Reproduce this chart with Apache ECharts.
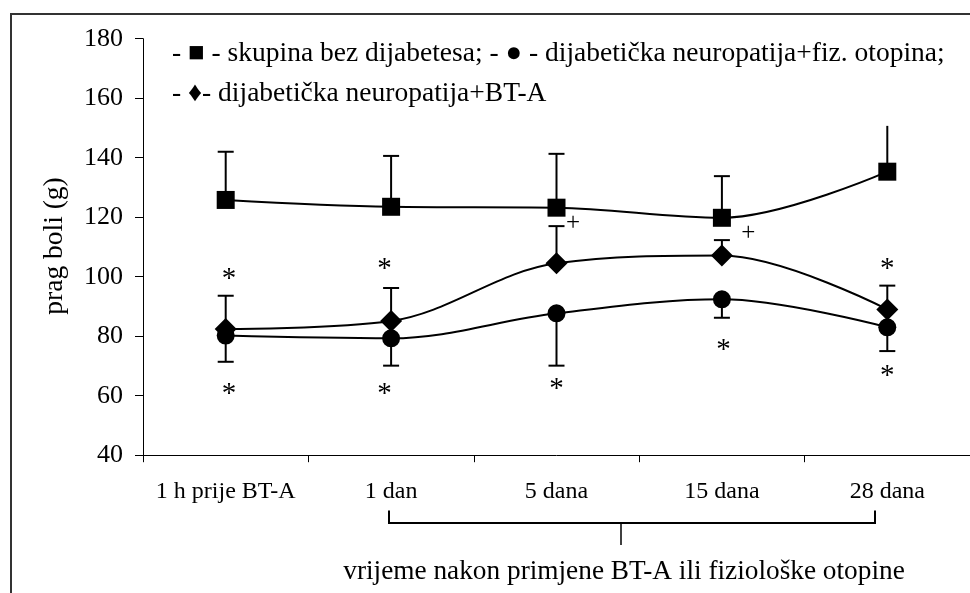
<!DOCTYPE html>
<html><head><meta charset="utf-8">
<script src="https://cdn.jsdelivr.net/npm/echarts@6/dist/echarts.min.js"></script>
<style>html,body{margin:0;padding:0;background:#fff}#c{width:970px;height:593px}</style>
</head><body><div id="c"></div>
<script>
const categories = ['1 h prije BT-A', '1 dan', '5 dana', '15 dana', '28 dana'];
const seriesNames = ['skupina bez dijabetesa', 'dijabetička neuropatija+fiz. otopina', 'dijabetička neuropatija+BT-A'];
const healthy = [125.8, 123.5, 123.2, 119.8, 135.3];
const healthyErrTop = [142, 140.6, 141.3, 133.8, 150.7];
const salineDN = [80.2, 79.3, 87.7, 92.4, 83];
const salineErrBottom = [71.4, 70.1, 70.1, 86.2, 75];
const btaDN = [82.4, 85.1, 104.5, 107.1, 89];
const btaErrTop = [93.6, 96.2, 117, 112.3, 97];
const yMin = 40, yMax = 180, yStep = 20;
const asterisks = [[0.02, 100.3], [0.96, 103.7], [4, 103.7], [0.02, 61.9], [0.96, 61.9], [2, 63.6], [3.01, 76.5], [4, 68]];
const plusMarks = [[2.1, 118], [3.16, 114.6]];
const yAxisTitle = 'prag boli (g)';
const xAxisTitle = 'vrijeme nakon primjene BT-A ili fiziološke otopine';

const FONT = '"Liberation Serif", "Times New Roman", serif';
const chart = echarts.init(document.getElementById('c'), null, {renderer: 'canvas'});

function errSeries(vals, ends, noCap) {
  return {
    type: 'custom', xAxisIndex: 0, yAxisIndex: 0, z: 1, silent: true,
    data: vals.map((v, i) => [i, v, ends[i]]),
    renderItem: (params, api) => {
      const i = api.value(0);
      const p0 = api.coord([i, api.value(1)]);
      const p1 = api.coord([i, api.value(2)]);
      const ch = [{type: 'line', shape: {x1: p0[0], y1: p0[1], x2: p1[0], y2: p1[1]}, style: {stroke: '#000', lineWidth: 2}}];
      if (!(noCap && noCap.includes(params.dataIndex))) {
        ch.push({type: 'line', shape: {x1: p1[0] - 8, y1: p1[1], x2: p1[0] + 8, y2: p1[1]}, style: {stroke: '#000', lineWidth: 2}});
      }
      return {type: 'group', children: ch};
    }
  };
}
function textSeries(points, txt, size, dy) {
  return {
    type: 'custom', xAxisIndex: 1, yAxisIndex: 0, z: 5, silent: true,
    data: points,
    renderItem: (params, api) => {
      const c = api.coord([api.value(0), api.value(1)]);
      return {type: 'text', x: c[0], y: c[1] + dy, style: {text: txt, fontSize: size, fontFamily: FONT, align: 'center', verticalAlign: 'middle', fill: '#000'}};
    }
  };
}
function lineSeries(name, vals, symbol, size) {
  return {
    name, type: 'line', data: vals, smooth: 0.35, symbol, symbolSize: size, showSymbol: true,
    z: 3, silent: true, animation: false,
    lineStyle: {color: '#000', width: 2}, itemStyle: {color: '#000', borderWidth: 0}
  };
}

const option = {
  animation: false,
  backgroundColor: '#fff',
  grid: {left: 143, right: 0, top: 38.7, bottom: 137.8, containLabel: false},
  xAxis: [{
    type: 'category', data: categories, boundaryGap: true,
    axisLine: {onZero: false, lineStyle: {color: '#000', width: 1}},
    axisTick: {show: true, length: 7, interval: 0, lineStyle: {color: '#000'}},
    axisLabel: {interval: 0, margin: 25, fontSize: 24, fontFamily: FONT, color: '#000'}
  }, {
    type: 'value', min: -0.5, max: 4.5, show: false
  }],
  yAxis: {
    type: 'value', min: yMin, max: yMax, interval: yStep,
    axisLine: {show: true, onZero: false, lineStyle: {color: '#000', width: 1}},
    axisTick: {show: true, length: 8, lineStyle: {color: '#000'}},
    splitLine: {show: false},
    axisLabel: {margin: 20, fontSize: 26, fontFamily: FONT, color: '#000'}
  },
  series: [
    errSeries(healthy, healthyErrTop, [4]),
    errSeries(salineDN, salineErrBottom),
    errSeries(btaDN, btaErrTop),
    lineSeries(seriesNames[0], healthy, 'rect', 18),
    lineSeries(seriesNames[1], salineDN, 'circle', 18),
    lineSeries(seriesNames[2], btaDN, 'diamond', 22),
    textSeries(asterisks, '*', 29, 4),
    textSeries(plusMarks, '+', 25, 0)
  ],
  graphic: [
    {type: 'polyline', shape: {points: [[11, 593], [11, 14], [970, 14]]}, style: {stroke: '#333', lineWidth: 2, fill: null}, silent: true},
    {type: 'text', left: 172, top: 40, style: {text: '- ■ - ' + seriesNames[0] + '; - ● - ' + seriesNames[1] + ';', fontSize: 27.5, fontFamily: FONT, fill: '#000'}},
    {type: 'text', left: 172, top: 80, style: {text: '- ♦- ' + seriesNames[2], fontSize: 27.5, fontFamily: FONT, fill: '#000'}},
    {type: 'text', x: 55, y: 246, rotation: Math.PI / 2, style: {text: yAxisTitle, fontSize: 27.5, fontFamily: FONT, fill: '#000', align: 'center', verticalAlign: 'middle'}},
    {type: 'polyline', shape: {points: [[389, 510.5], [389, 523], [875, 523], [875, 510.5]]}, style: {stroke: '#000', lineWidth: 2, fill: null}, silent: true},
    {type: 'line', shape: {x1: 621, y1: 523, x2: 621, y2: 545}, style: {stroke: '#000', lineWidth: 1.5}, silent: true},
    {type: 'text', x: 624, y: 572, style: {text: xAxisTitle, fontSize: 27.3, fontFamily: FONT, fill: '#000', align: 'center', verticalAlign: 'middle'}}
  ]
};
chart.setOption(option);
</script>
</body></html>
